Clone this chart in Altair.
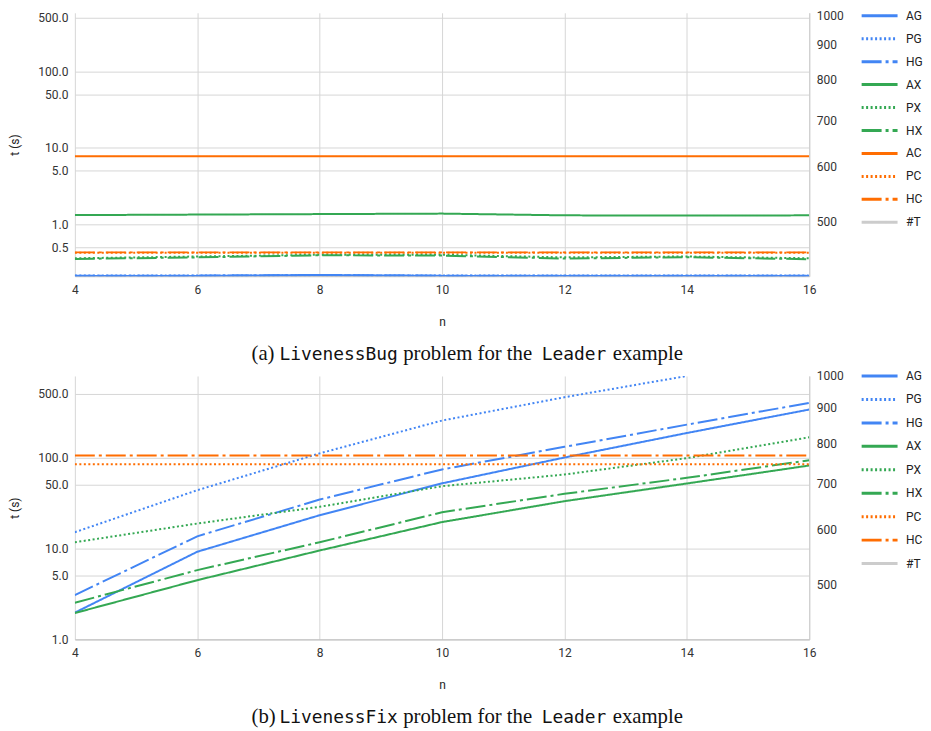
import altair as alt
import pandas as pd

n_vals = [4, 6, 8, 10, 12, 14, 16]

# ---- panel (a): LivenessBug ----
series_a = ["AG", "PG", "HG", "AX", "PX", "HX", "AC", "PC", "HC", "#T"]
a_AG = [0.212, 0.212, 0.218, 0.212, 0.212, 0.212, 0.212]
a_PG = [0.214, 0.214, 0.216, 0.214, 0.214, 0.214, 0.214]
a_HG = [0.213, 0.213, 0.217, 0.213, 0.213, 0.213, 0.213]
a_AX = [1.32, 1.34, 1.36, 1.38, 1.31, 1.30, 1.31]
a_PX = [0.36, 0.38, 0.40, 0.40, 0.37, 0.38, 0.36]
a_HX = [0.353, 0.37, 0.394, 0.39, 0.357, 0.372, 0.35]
a_AC = [7.77, 7.77, 7.77, 7.77, 7.77, 7.77, 7.77]
a_PC = [0.425, 0.425, 0.425, 0.425, 0.425, 0.425, 0.425]
a_HC = [0.43, 0.43, 0.43, 0.43, 0.43, 0.43, 0.43]

# ---- panel (b): LivenessFix ----
series_b = ["AG", "PG", "HG", "AX", "PX", "HX", "PC", "HC", "#T"]
b_AG = [1.97, 9.2, 23.2, 52, 100, 186, 337]
b_PG = [15.1, 43.7, 111, 255, 460, 788, None]
b_HG = [3.07, 13.6, 34.5, 74, 131, 230, 399]
b_AX = [1.95, 4.48, 9.5, 19.5, 33.1, 51.8, 81.7]
b_PX = [11.7, 18.8, 28.7, 48.4, 65, 98.4, 167]
b_HX = [2.53, 5.78, 11.7, 25, 39.9, 59.8, 93.3]
b_PC = [84.5, 84.5, 84.5, 84.5, 84.5, 84.5, 84.5]
b_HC = [105, 105, 105, 105, 105, 105, 105]

left_ticks_a = [0.5, 1, 5, 10, 50, 100, 500]
left_ticks_b = [1, 5, 10, 50, 100, 500]
right_ticks = [500, 600, 700, 800, 900, 1000]
x_ticks = [4, 6, 8, 10, 12, 14, 16]

BLUE, GREEN, ORANGE, GRAY = "#4285F4", "#34A853", "#FF6D01", "#CCCCCC"
color_map = {"AG": BLUE, "PG": BLUE, "HG": BLUE, "AX": GREEN, "PX": GREEN, "HX": GREEN,
             "AC": ORANGE, "PC": ORANGE, "HC": ORANGE, "#T": GRAY}
SOLID, DOT, DASHDOT = [1, 0], [2, 2.5], [20, 4, 3, 4]


def dash_for(s):
    if s.startswith("P"):
        return DOT
    if s.startswith("H"):
        return DASHDOT
    return SOLID


FONT = "Roboto"


def long_df(series, cols):
    rows = []
    for s in series:
        if s not in cols:
            continue
        for n, v in zip(n_vals, cols[s]):
            rows.append({"n": n, "t": v, "series": s})
    return pd.DataFrame(rows)


def panel(df, series, ydom, yticks, label, problem, top_panel):
    legend = alt.Legend(
        title=None, orient="none", legendX=787, legendY=-4 if top_panel else -7,
        symbolType="stroke", symbolSize=1296, symbolStrokeWidth=3,
        clipHeight=14, rowPadding=9.5 if not top_panel else 9.0, labelFont=FONT, labelFontSize=12,
        labelColor="#222", labelOffset=7, padding=0,
    )
    lines = alt.Chart(df).mark_line(strokeWidth=2, clip=True).encode(
        x=alt.X("n:Q", scale=alt.Scale(domain=[4, 16], nice=False, zero=False),
                axis=alt.Axis(values=x_ticks, format="d", title="n", grid=True, ticks=False,
                              domainColor="#bbbbbb", labelPadding=8, titlePadding=21,
                              labelFlush=False)),
        y=alt.Y("t:Q", scale=alt.Scale(type="log", domain=ydom, nice=False),
                axis=alt.Axis(values=yticks, format=".1f", title="t (s)", grid=True,
                              ticks=False, domain=False, labelPadding=7, titlePadding=16)),
        color=alt.Color("series:N", scale=alt.Scale(domain=series, range=[color_map[s] for s in series]),
                        legend=legend),
        strokeDash=alt.StrokeDash("series:N", scale=alt.Scale(domain=series, range=[dash_for(s) for s in series]),
                                  legend=legend),
    )
    right_axis = dict(orient="right", values=right_ticks, format="d", title=None, grid=False,
                      ticks=False, domain=True, domainColor="#cccccc", labelPadding=7)
    if top_panel:
        right_axis["labelOffset"] = {"condition": {"test": "datum.value >= 1000", "value": 3}, "value": 0}
    right = alt.Chart(pd.DataFrame({"n": [4], "T": [500]})).mark_point(opacity=0).encode(
        x="n:Q",
        y=alt.Y("T:Q", scale=alt.Scale(type="log", domain=[417, 1000], nice=False),
                axis=alt.Axis(**right_axis)),
    )
    one = pd.DataFrame({"k": [0]})
    ybase = 348
    serif = dict(font="Liberation Serif", fontSize=20.8, align="left", baseline="alphabetic", color="#111")
    mono = dict(font="DejaVu Sans Mono", fontSize=17.9, align="left", baseline="alphabetic", color="#111")
    caps = [
        alt.Chart(one).mark_text(text=label, **serif).encode(x=alt.value(177), y=alt.value(ybase)),
        alt.Chart(one).mark_text(text=problem, **mono).encode(x=alt.value(205), y=alt.value(ybase)),
        alt.Chart(one).mark_text(text="problem for the", **serif).encode(x=alt.value(329), y=alt.value(ybase)),
        alt.Chart(one).mark_text(text="Leader", **mono).encode(x=alt.value(468), y=alt.value(ybase)),
        alt.Chart(one).mark_text(text="example", **serif).encode(x=alt.value(539), y=alt.value(ybase)),
    ]
    return alt.layer(lines, right, *caps).resolve_scale(y="independent").properties(width=736, height=264)


df_a = long_df(series_a, {"AG": a_AG, "PG": a_PG, "HG": a_HG, "AX": a_AX, "PX": a_PX,
                          "HX": a_HX, "AC": a_AC, "PC": a_PC, "HC": a_HC})
df_b = long_df(series_b, {"AG": b_AG, "PG": b_PG, "HG": b_HG, "AX": b_AX, "PX": b_PX,
                          "HX": b_HX, "PC": b_PC, "HC": b_HC})

pa = panel(df_a, series_a, [0.21, 580], left_ticks_a, "(a)", "LivenessBug", True)
pb = panel(df_b, series_b, [1, 788], left_ticks_b, "(b)", "LivenessFix", False)

chart = alt.vconcat(pa, pb, spacing=100, bounds="flush").resolve_scale(
    color="independent", strokeDash="independent"
).properties(
    padding={"left": 0, "top": 0, "right": 0, "bottom": 0}, background="white"
).configure_view(stroke=None).configure_axis(
    labelFont=FONT, labelFontSize=12, labelColor="#333", titleFont=FONT, titleFontSize=12,
    titleFontWeight="normal", titleColor="#222", gridColor="#d6d6d6", gridWidth=1
)

chart.save("out.html", embed_options={"renderer": "svg", "actions": False})
